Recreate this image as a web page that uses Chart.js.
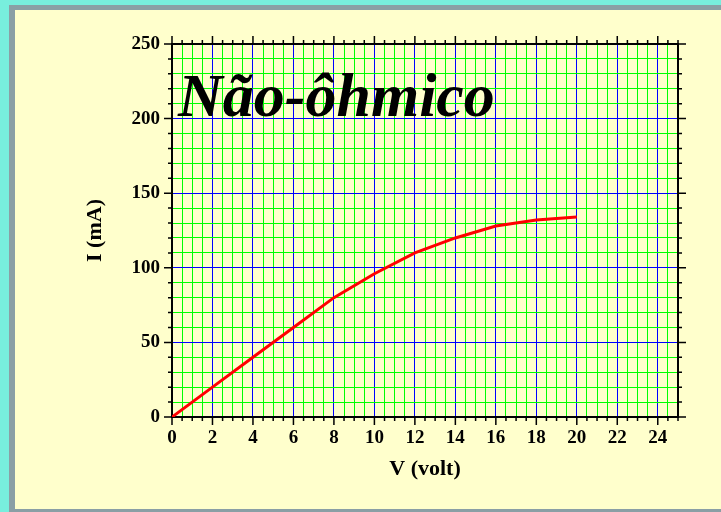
<!DOCTYPE html>
<html>
<head>
<meta charset="utf-8">
<script src="https://cdn.jsdelivr.net/npm/chart.js@4.4.1/dist/chart.umd.min.js"></script>
<style>
  html, body { margin: 0; padding: 0; }
  body { background: #78eedd; width: 721px; height: 512px; overflow: hidden; position: relative; }
  #quadro {
    position: absolute; left: 9px; top: 5px; width: 706px; height: 499px;
    background: #ffffcc;
    border-left: 6px solid #8a9fa5; border-top: 5px solid #8a9fa5; border-bottom: 3px solid #8a9fa5;
  }
  canvas { display: block; }
</style>
</head>
<body>
<div id="quadro"><canvas id="grafico" width="706" height="499"></canvas></div>
<script>
// dados
const tensoes = [0, 2, 4, 6, 8, 10, 12, 14, 16, 18, 20];
const correntes = [0, 20, 40, 60, 80, 96, 110, 120, 128, 132, 134];

// rotulos dos eixos
const rotulosV = [0, 2, 4, 6, 8, 10, 12, 14, 16, 18, 20, 22, 24];
const rotulosI = [0, 50, 100, 150, 200, 250];

const serif = '"Liberation Serif", "Times New Roman", serif';
const azul = '#0000ff';
const verde = '#00ff00';

// tracinhos pretos para fora, nos quatro lados
const tracos = {
  id: 'tracos',
  afterDraw(chart) {
    const { ctx, chartArea: a } = chart;
    const sx = chart.scales.x, sy = chart.scales.y;
    ctx.save();
    ctx.strokeStyle = '#000';
    ctx.lineWidth = 1.5;
    ctx.beginPath();
    sx.ticks.forEach(t => {
      const px = sx.getPixelForValue(t.value);
      const l = t.value % 2 === 0 ? 8 : 4;
      ctx.moveTo(px, a.bottom); ctx.lineTo(px, a.bottom + l);
      ctx.moveTo(px, a.top); ctx.lineTo(px, a.top - l);
    });
    sy.ticks.forEach(t => {
      const py = sy.getPixelForValue(t.value);
      const l = t.value % 50 === 0 ? 8 : 4;
      ctx.moveTo(a.left, py); ctx.lineTo(a.left - l, py);
      ctx.moveTo(a.right, py); ctx.lineTo(a.right + l, py);
    });
    ctx.stroke();

    // titulo grande dentro da area
    ctx.fillStyle = '#000';
    ctx.font = 'italic bold 62px ' + serif;
    ctx.textBaseline = 'alphabetic';
    ctx.fillText('Não-ôhmico', a.left + 6, a.top + 72);
    ctx.restore();
  }
};

const largura = (w) => (s) => { s.width = w; };
const altura = (h) => (s) => { s.height = h; };

new Chart(document.getElementById('grafico'), {
  type: 'line',
  data: {
    datasets: [{
      data: tensoes.map((v, i) => ({ x: v, y: correntes[i] })),
      borderColor: '#ff0000',
      borderWidth: 3,
      pointRadius: 0,
      tension: 0,
      fill: false
    }]
  },
  options: {
    responsive: false,
    animation: false,
    layout: { padding: 0 },
    plugins: { legend: { display: false }, tooltip: { enabled: false } },
    scales: {
      x: {
        type: 'linear', position: 'bottom', min: 0, max: 25,
        afterFit: altura(92),
        border: { color: '#000', width: 2 },
        grid: {
          drawTicks: false,
          lineWidth: 1,
          color: (c) => (c.tick && c.tick.value % 2 === 0 ? azul : verde)
        },
        ticks: {
          stepSize: 0.5, autoSkip: false, maxRotation: 0, padding: 10,
          color: '#000', font: { family: serif, size: 19, weight: 'bold' },
          callback: (v) => (rotulosV.includes(v) ? String(v) : '')
        },
        title: {
          display: true, text: 'V (volt)', color: '#000',
          font: { family: serif, size: 22, weight: 'bold' },
          padding: { top: 0, bottom: 26 }
        }
      },
      x2: {
        type: 'linear', position: 'top', min: 0, max: 25,
        afterFit: altura(34),
        border: { color: '#000', width: 2 },
        grid: { drawOnChartArea: false, drawTicks: false },
        ticks: { display: false }
      },
      y: {
        type: 'linear', position: 'left', min: 0, max: 250,
        afterFit: largura(157),
        border: { color: '#000', width: 2 },
        grid: {
          drawTicks: false,
          lineWidth: 1,
          color: (c) => (c.tick && c.tick.value % 50 === 0 ? azul : verde)
        },
        ticks: {
          stepSize: 10, autoSkip: false, padding: 12,
          color: '#000', font: { family: serif, size: 19, weight: 'bold' },
          callback: (v) => (rotulosI.includes(v) ? String(v) : '')
        },
        title: {
          display: true, text: 'I (mA)', color: '#000',
          font: { family: serif, size: 22, weight: 'bold' },
          padding: { top: 67, bottom: 0 }
        }
      },
      y2: {
        type: 'linear', position: 'right', min: 0, max: 250,
        afterFit: largura(43),
        border: { color: '#000', width: 2 },
        grid: { drawOnChartArea: false, drawTicks: false },
        ticks: { display: false }
      }
    }
  },
  plugins: [tracos]
});
</script>
</body>
</html>
